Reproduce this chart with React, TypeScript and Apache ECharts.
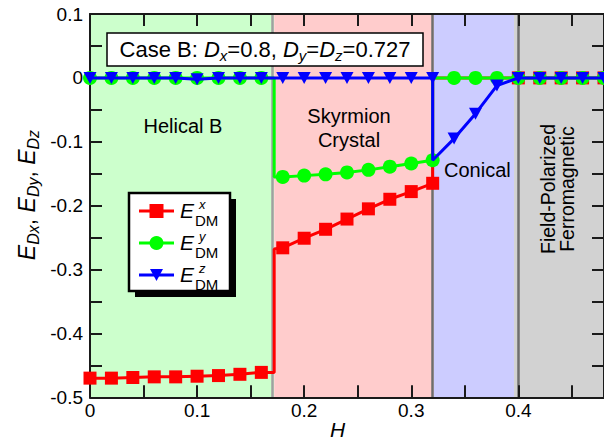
import React, { useEffect, useRef } from "react";
import * as echarts from "echarts";

// ---- data ----
const helicalH = [0, 0.02, 0.04, 0.06, 0.08, 0.1, 0.12, 0.14, 0.16];
const skyrmionH = [0.18, 0.2, 0.22, 0.24, 0.26, 0.28, 0.3, 0.32];
const conicalH = [0.34, 0.36, 0.38];
const fpH = [0.4, 0.42, 0.44, 0.46, 0.48];

const exHelical = [-0.47, -0.47, -0.469, -0.468, -0.468, -0.467, -0.466, -0.464, -0.461];
const exSkyrmion = [-0.266, -0.251, -0.237, -0.221, -0.205, -0.19, -0.178, -0.165];
const exConical = [0, 0, 0];
const exFP = [0, 0, 0, 0, 0];

const eyHelical = [0, 0, 0, 0, 0, 0, 0, 0, 0];
const eySkyrmion = [-0.155, -0.153, -0.151, -0.148, -0.144, -0.139, -0.134, -0.129];
const eyConical = [0, 0, 0];
const eyFP = [0, 0, 0, 0, 0];

const ezHelical = [0, 0, 0, 0, 0, -0.002, 0, 0, 0];
const ezSkyrmion = [0, 0, 0, 0, 0, 0, 0, 0];
const ezConical = [-0.095, -0.056, -0.012];
const ezFP = [0, 0, 0, 0, 0];

// transitions in the data (step points, no markers)
const stepH1 = 0.172;
const stepH2 = 0.32;
const exStepTop = -0.268;
const ezStepBottom = -0.129;

// phase regions
const phaseBounds = [0, 0.172, 0.321, 0.396, 0.48];
const phaseColors = ["#ccffcc", "#ffcccc", "#ccccff", "#d2d2d2"];
const boundaryColors = ["#a0a0a0", "#6e6e6e", "#6e6e6e"];

const xTicks = { min: 0, max: 0.48, interval: 0.05 };
const yTicks = { min: -0.5, max: 0.1, interval: 0.05 };

const FONT = "'Liberation Sans', Arial, Helvetica, sans-serif";

const pts = (hs: number[], vs: number[], marker = true) =>
  hs.map((h, i) => (marker ? [h, vs[i]] : { value: [h, vs[i]], symbol: "none" }));
const step = (h: number, v: number) => ({ value: [h, v], symbol: "none" });

const redData = [
  ...pts(helicalH, exHelical),
  step(stepH1, exHelical[exHelical.length - 1]),
  step(stepH1, exStepTop),
  ...pts(skyrmionH, exSkyrmion),
  step(stepH2, 0),
  ...pts(conicalH, exConical, false),
  ...pts(fpH, exFP),
];
const greenData = [
  ...pts(helicalH, eyHelical),
  step(stepH1, 0),
  step(stepH1, eySkyrmion[0]),
  ...pts(skyrmionH, eySkyrmion),
  step(stepH2, 0),
  ...pts(conicalH, eyConical),
  ...pts(fpH, eyFP),
];
const blueData = [
  ...pts(helicalH, ezHelical),
  ...pts(skyrmionH, ezSkyrmion),
  step(stepH2, ezStepBottom),
  ...pts(conicalH, ezConical),
  ...pts(fpH, ezFP),
];

const fmt = (v: number) => {
  const t = Math.round(v * 100);
  if (t % 10 !== 0) return "";
  if (t === 0) return "0";
  return (t / 100).toFixed(1);
};

const axisLineStyle = { color: "#1a1a1a", width: 2 };
const baseAxis = {
  type: "value",
  z: 3,
  axisLine: { show: true, onZero: false, lineStyle: axisLineStyle },
  axisTick: { show: true, inside: true, length: 12, lineStyle: axisLineStyle },
  splitLine: { show: false },
};

const legendRows = [
  { sup: "x", color: "#ff0000", shape: "square" },
  { sup: "y", color: "#00ff00", shape: "circle" },
  { sup: "z", color: "#0000ff", shape: "triangle" },
];
const legendRowY = [211, 243, 275];

function legendGraphics() {
  const els: any[] = [
    { type: "rect", z: 10, shape: { x: 135, y: 199, width: 101, height: 98 }, style: { fill: "#000" } },
    { type: "rect", z: 11, shape: { x: 129, y: 193, width: 101, height: 98 }, style: { fill: "#fff", stroke: "#000", lineWidth: 2.5 } },
  ];
  legendRows.forEach((row, i) => {
    const r = legendRowY[i];
    els.push({ type: "line", z: 12, shape: { x1: 139, y1: r, x2: 174, y2: r }, style: { stroke: row.color, lineWidth: 3 } });
    if (row.shape === "square") {
      els.push({ type: "rect", z: 13, shape: { x: 149.5, y: r - 7, width: 14, height: 14 }, style: { fill: row.color } });
    } else if (row.shape === "circle") {
      els.push({ type: "circle", z: 13, shape: { cx: 156.5, cy: r, r: 7 }, style: { fill: row.color } });
    } else {
      els.push({ type: "polygon", z: 13, shape: { points: [[150, r - 6], [163, r - 6], [156.5, r + 6]] }, style: { fill: row.color } });
    }
    els.push({ type: "text", z: 13, x: 180, y: r - 1, style: { text: "E", fontSize: 21, fontStyle: "italic", fontFamily: FONT, fill: "#000", align: "left", verticalAlign: "middle" } });
    els.push({ type: "text", z: 13, x: 199, y: r - 7, style: { text: row.sup, fontSize: 13, lineHeight: 12, fontStyle: "italic", fontFamily: FONT, fill: "#000", align: "left", verticalAlign: "middle" } });
    els.push({ type: "text", z: 13, x: 195, y: r + 9, style: { text: "DM", fontSize: 15, lineHeight: 13, fontFamily: FONT, fill: "#000", align: "left", verticalAlign: "middle" } });
  });
  return els;
}

const textStyle = (fs: number) => ({ fontSize: fs, fontFamily: FONT, fill: "#000" });

const option: any = {
  animation: false,
  backgroundColor: "#fff",
  grid: { left: 90, top: 14, width: 515.5, height: 383.3, containLabel: false },
  xAxis: [
    {
      ...baseAxis,
      position: "bottom",
      ...xTicks,
      axisLabel: { formatter: fmt, fontSize: 19, color: "#000", fontFamily: FONT, margin: 4, showMaxLabel: false },
    },
    {
      ...baseAxis,
      position: "top",
      ...xTicks,
      axisLabel: { show: false },
    },
  ],
  yAxis: [
    {
      ...baseAxis,
      position: "left",
      ...yTicks,
      axisLabel: { formatter: fmt, fontSize: 19, color: "#000", fontFamily: FONT, margin: 7 },
    },
    {
      ...baseAxis,
      position: "right",
      ...yTicks,
      axisLabel: { show: false },
    },
  ],
  series: [
    {
      name: "phases",
      type: "line",
      data: [],
      silent: true,
      markArea: {
        silent: true,
        z: 1,
        data: phaseColors.map((c, i) => [
          { xAxis: phaseBounds[i], itemStyle: { color: c } },
          { xAxis: phaseBounds[i + 1] },
        ]),
      },
      markLine: {
        silent: true,
        z: 2,
        symbol: "none",
        label: { show: false },
        data: boundaryColors.map((c, i) => ({ xAxis: phaseBounds[i + 1], lineStyle: { color: c, width: 2.5, type: "solid" } })),
      },
    },
    {
      name: "Ex",
      type: "line",
      z: 5,
      data: redData,
      clip: false,
      showAllSymbol: true,
      symbol: "rect",
      symbolSize: 13,
      itemStyle: { color: "#ff0000" },
      lineStyle: { color: "#ff0000", width: 3 },
    },
    {
      name: "Ey",
      type: "line",
      z: 6,
      data: greenData,
      clip: false,
      showAllSymbol: true,
      symbol: "circle",
      symbolSize: 14,
      itemStyle: { color: "#00ff00" },
      lineStyle: { color: "#00ff00", width: 3 },
    },
    {
      name: "Ez",
      type: "line",
      z: 7,
      data: blueData,
      clip: false,
      showAllSymbol: true,
      symbol: "triangle",
      symbolRotate: 180,
      symbolSize: [13, 12],
      itemStyle: { color: "#0000ff" },
      lineStyle: { color: "#0000ff", width: 3 },
    },
  ],
  graphic: [
    // case annotation
    { type: "rect", z: 10, shape: { x: 107, y: 33, width: 316, height: 33 }, style: { fill: "#fff", stroke: "#000", lineWidth: 1.5 } },
    {
      type: "text",
      z: 11,
      x: 265,
      y: 49.5,
      style: {
        text: "{n|Case B: }{i|D}{s|x}{n|=0.8, }{i|D}{s|y}{n|=}{i|D}{s|z}{n|=0.727}",
        align: "center",
        verticalAlign: "middle",
        rich: {
          n: { ...textStyle(22), lineHeight: 26 },
          i: { ...textStyle(22), fontStyle: "italic", lineHeight: 26 },
          s: { ...textStyle(15), fontStyle: "italic", lineHeight: 12, verticalAlign: "bottom" },
        },
      },
    },
    ...legendGraphics(),
    // axis titles
    {
      type: "text",
      z: 10,
      x: 27,
      y: 195,
      rotation: Math.PI / 2,
      style: {
        text: "{e|E}{s|Dx}{n|, }{e|E}{s|Dy}{n|, }{e|E}{s|Dz}",
        align: "center",
        verticalAlign: "middle",
        rich: {
          e: { ...textStyle(23), fontStyle: "italic", lineHeight: 28 },
          n: { ...textStyle(23), lineHeight: 28 },
          s: { ...textStyle(16), fontStyle: "italic", lineHeight: 14, verticalAlign: "bottom" },
        },
      },
    },
    { type: "text", z: 10, x: 337.5, y: 429, style: { text: "H", ...textStyle(21), fontStyle: "italic", align: "center", verticalAlign: "middle" } },
    // region labels
    { type: "text", z: 10, x: 183, y: 126, style: { text: "Helical B", ...textStyle(20), align: "center", verticalAlign: "middle" } },
    { type: "text", z: 10, x: 349, y: 128, style: { text: "Skyrmion\nCrystal", ...textStyle(20), lineHeight: 23.5, align: "center", verticalAlign: "middle" } },
    { type: "text", z: 10, x: 444, y: 170, style: { text: "Conical", ...textStyle(20), align: "left", verticalAlign: "middle" } },
    {
      type: "text",
      z: 10,
      x: 557.5,
      y: 189,
      rotation: Math.PI / 2,
      style: { text: "Field-Polarized\nFerromagnetic", ...textStyle(19.5), lineHeight: 19, align: "center", verticalAlign: "middle" },
    },
  ],
};

export default function App() {
  const ref = useRef<HTMLDivElement>(null);
  useEffect(() => {
    if (!ref.current) return;
    const chart = echarts.init(ref.current, null, { renderer: "svg" });
    chart.setOption(option);
    return () => chart.dispose();
  }, []);
  return <div ref={ref} style={{ position: "absolute", left: 0, top: 0, width: 604, height: 443 }} />;
}
